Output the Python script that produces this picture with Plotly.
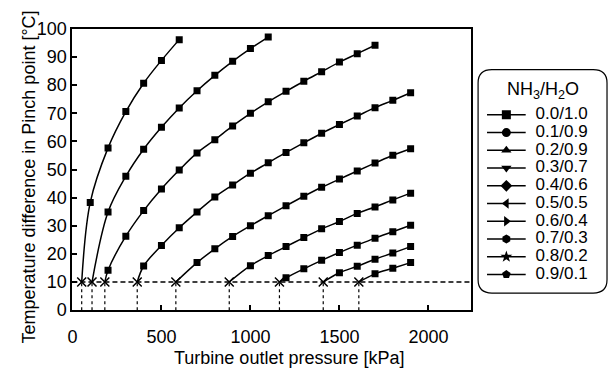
import plotly.graph_objects as go

W, H = 609, 376

# ---------------- data ----------------
ratio_labels = ["0.0/1.0", "0.1/0.9", "0.2/0.9", "0.3/0.7", "0.4/0.6",
                "0.5/0.5", "0.6/0.4", "0.7/0.3", "0.8/0.2", "0.9/0.1"]
legend_symbols = ["square", "circle", "triangle-up", "triangle-down", "diamond",
                  "triangle-left", "triangle-right", "hexagon", "star", "pentagon"]

pinch_limit = 10  # degC, minimum pinch temperature difference

# turbine outlet pressure where each curve reaches the 10 degC pinch limit [kPa]
start_pressure = [52, 110, 182, 364, 581, 881, 1163, 1409, 1609]

p_c1 = [100, 200, 300, 400, 500, 600]
dt_c1 = [38.3, 57.7, 70.6, 80.7, 88.8, 96.2]

p_c2 = [200, 300, 400, 500, 600, 700, 800, 900, 1000, 1100]
dt_c2 = [34.9, 47.6, 57.2, 65.0, 71.9, 78.0, 83.5, 88.5, 93.0, 97.1]

p_c3 = [200, 300, 400, 500, 600, 700, 800, 900, 1000, 1100, 1200, 1300, 1400, 1500, 1600, 1700]
dt_c3 = [14.2, 26.3, 35.4, 43.1, 49.8, 55.9, 60.6, 65.5, 70.0, 74.1, 77.8, 81.4, 84.8, 88.2, 91.2, 94.2]

p_c4 = [400, 500, 600, 700, 800, 900, 1000, 1100, 1200, 1300, 1400, 1500, 1600, 1700, 1800, 1900]
dt_c4 = [15.7, 23.0, 29.3, 34.9, 40.2, 44.5, 48.7, 52.4, 56.1, 59.5, 62.9, 66.0, 69.0, 72.0, 74.6, 77.3]

p_c5 = [700, 800, 900, 1000, 1100, 1200, 1300, 1400, 1500, 1600, 1700, 1800, 1900]
dt_c5 = [16.9, 21.8, 26.2, 30.0, 33.6, 37.1, 40.5, 43.7, 46.6, 49.5, 52.3, 55.1, 57.4]

p_c6 = [1000, 1100, 1200, 1300, 1400, 1500, 1600, 1700, 1800, 1900]
dt_c6 = [15.8, 19.4, 22.6, 25.8, 28.9, 31.5, 34.4, 36.7, 39.2, 41.6]

p_c7 = [1200, 1300, 1400, 1500, 1600, 1700, 1800, 1900]
dt_c7 = [11.5, 14.7, 17.7, 20.5, 23.1, 25.6, 27.9, 30.2]

p_c8 = [1500, 1600, 1700, 1800, 1900]
dt_c8 = [13.3, 15.6, 18.1, 20.3, 22.6]

p_c9 = [1700, 1800, 1900]
dt_c9 = [12.9, 14.9, 16.9]

curves_p = [p_c1, p_c2, p_c3, p_c4, p_c5, p_c6, p_c7, p_c8, p_c9]
curves_dt = [dt_c1, dt_c2, dt_c3, dt_c4, dt_c5, dt_c6, dt_c7, dt_c8, dt_c9]

x_ticks = [0, 500, 1000, 1500, 2000]
y_ticks = [0, 10, 20, 30, 40, 50, 60, 70, 80, 90, 100]

# ---------------- figure ----------------
def px_x(px):
    return px / W

def px_y(py):
    return 1 - py / H

fig = go.Figure()

for p, dt, p0 in zip(curves_p, curves_dt, start_pressure):
    fig.add_trace(go.Scatter(
        x=[p0] + p, y=[pinch_limit] + dt, mode="lines",
        line=dict(color="black", width=1.5, shape="spline", smoothing=1.0),
        showlegend=False, hoverinfo="skip"))
    fig.add_trace(go.Scatter(
        x=p, y=dt, mode="markers",
        marker=dict(symbol="square", size=7, color="black"),
        showlegend=False))
    # dotted drop line from the pinch limit down to the axis
    fig.add_trace(go.Scatter(
        x=[p0, p0], y=[0, pinch_limit], mode="lines",
        line=dict(color="black", width=1.2, dash="dot"),
        showlegend=False, hoverinfo="skip"))

fig.add_trace(go.Scatter(
    x=start_pressure, y=[pinch_limit] * len(start_pressure), mode="markers",
    marker=dict(symbol="x-thin", size=9, line=dict(color="black", width=1.5)),
    showlegend=False))

# ---------------- manual legend on a hidden axis pair ----------------
n = len(ratio_labels)
for i, lab in enumerate(ratio_labels):
    fig.add_trace(go.Scatter(
        x=[9, 48], y=[i, i], mode="lines", xaxis="x2", yaxis="y2",
        line=dict(color="black", width=1.5), showlegend=False, hoverinfo="skip"))
fig.add_trace(go.Scatter(
    x=[28.5] * n, y=list(range(n)), mode="markers", xaxis="x2", yaxis="y2",
    marker=dict(symbol=legend_symbols, size=9, color="black"),
    showlegend=False, hoverinfo="skip"))
fig.add_trace(go.Scatter(
    x=[58] * n, y=list(range(n)), mode="text", xaxis="x2", yaxis="y2",
    text=ratio_labels, textposition="middle right",
    textfont=dict(size=17, color="black", family="Liberation Sans, Arial"),
    showlegend=False, hoverinfo="skip"))

# rounded legend box (paper coordinates computed from pixel layout)
bx0, bx1, by0, by1, r = 477, 607, 63, 299, 14
path = (f"M {px_x(bx0 + r)},{px_y(by0)} L {px_x(bx1 - r)},{px_y(by0)} "
        f"Q {px_x(bx1)},{px_y(by0)} {px_x(bx1)},{px_y(by0 + r)} "
        f"L {px_x(bx1)},{px_y(by1 - r)} Q {px_x(bx1)},{px_y(by1)} {px_x(bx1 - r)},{px_y(by1)} "
        f"L {px_x(bx0 + r)},{px_y(by1)} Q {px_x(bx0)},{px_y(by1)} {px_x(bx0)},{px_y(by1 - r)} "
        f"L {px_x(bx0)},{px_y(by0 + r)} Q {px_x(bx0)},{px_y(by0)} {px_x(bx0 + r)},{px_y(by0)} Z")

font = dict(family="Liberation Sans, Arial, sans-serif", size=18, color="black")

fig.update_layout(
    width=W, height=H,
    margin=dict(l=0, r=0, t=0, b=0),
    paper_bgcolor="white", plot_bgcolor="white",
    font=font,
    showlegend=False,
    xaxis=dict(domain=[px_x(68), px_x(470)], range=[0, 2240],
               tickvals=x_ticks, ticks="inside", ticklen=5, tickwidth=1.5,
               tickcolor="black", showgrid=False, zeroline=False,
               showline=True, linecolor="black", linewidth=2, mirror=True,
               ticklabelstandoff=9, tickfont=font),
    yaxis=dict(domain=[px_y(317), px_y(20)], range=[0, 100],
               tickvals=y_ticks, ticks="inside", ticklen=5, tickwidth=1.5,
               tickcolor="black", showgrid=False, zeroline=False,
               showline=True, linecolor="black", linewidth=2, mirror=True,
               tickfont=font),
    xaxis2=dict(domain=[px_x(bx0), px_x(bx1)], range=[0, 130], visible=False,
                anchor="y2", fixedrange=True),
    yaxis2=dict(domain=[px_y(by1), px_y(by0)], range=[10.05, -2.55], visible=False,
                anchor="x2", fixedrange=True),
    shapes=[
        dict(type="line", xref="x domain", yref="y", x0=0, x1=1,
             y0=pinch_limit, y1=pinch_limit,
             line=dict(color="black", width=1.5, dash="5px,3px"), layer="below"),
        dict(type="path", xref="paper", yref="paper", path=path,
             line=dict(color="black", width=1.2), fillcolor="rgba(0,0,0,0)"),
    ],
    annotations=[
        dict(text="Turbine outlet pressure [kPa]", xref="paper", yref="paper",
             x=px_x(286), y=px_y(368), xanchor="center", yanchor="middle",
             showarrow=False, font=dict(family=font["family"], size=18, color="black")),
        dict(text="Temperature difference in Pinch point [°C]", xref="paper", yref="paper",
             x=px_x(24), y=px_y(176), xanchor="center", yanchor="middle", textangle=-90,
             showarrow=False, font=dict(family=font["family"], size=18, color="black")),
        dict(text="NH<sub>3</sub>/H<sub>2</sub>O", xref="paper", yref="paper",
             x=px_x(542), y=px_y(85), xanchor="center", yanchor="middle",
             showarrow=False, font=dict(family=font["family"], size=18, color="black")),
    ],
)

fig.write_html("out.html")
